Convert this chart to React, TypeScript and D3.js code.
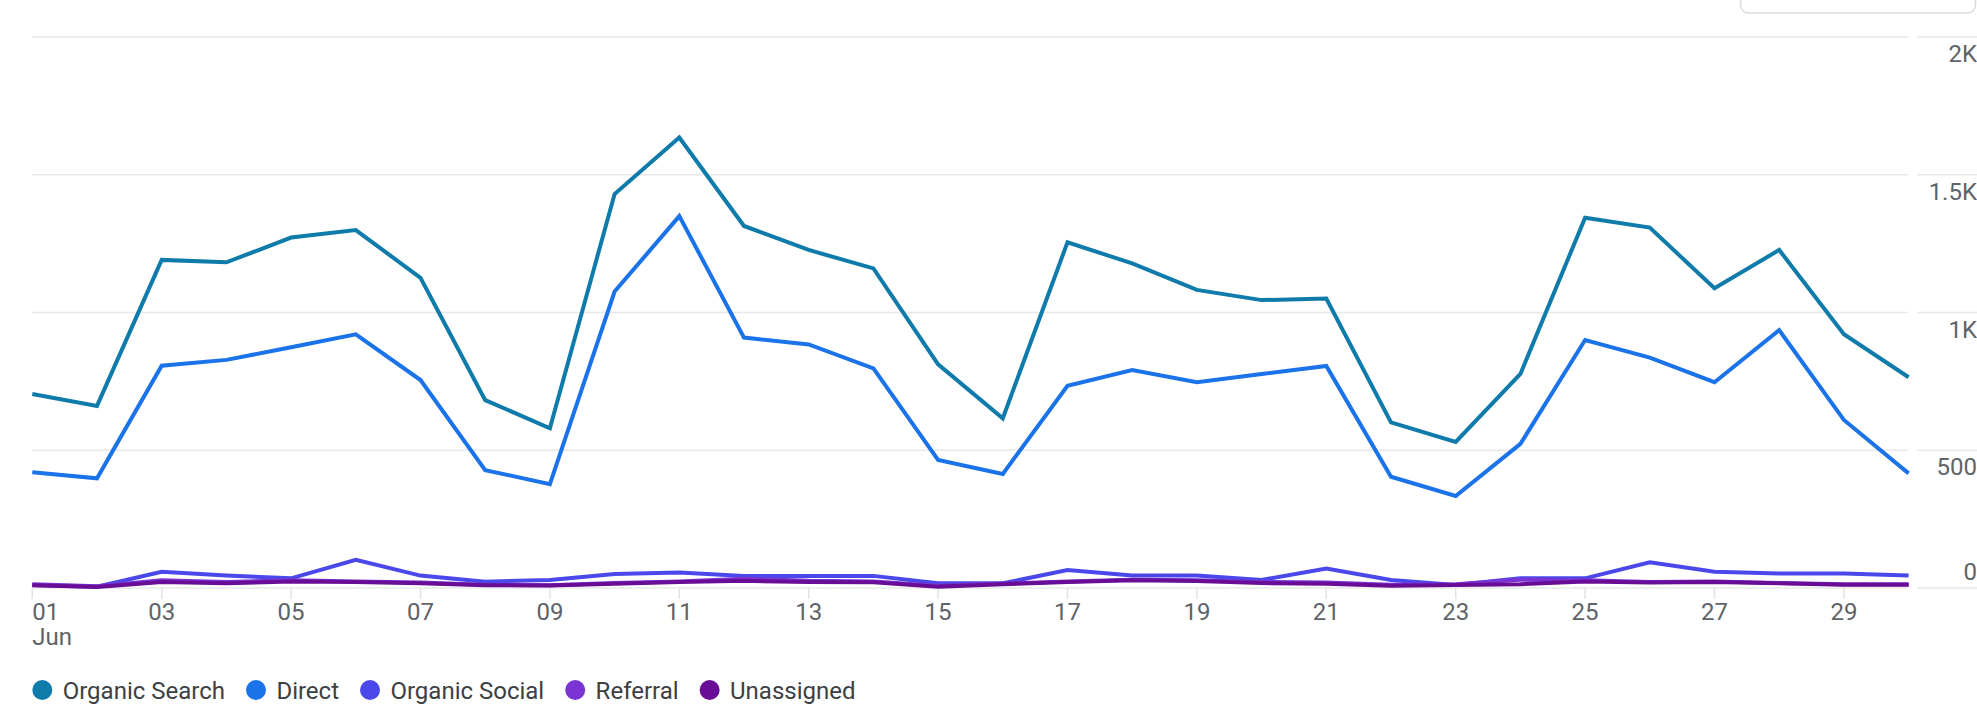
import React, { useEffect, useRef } from "react";
import * as d3 from "d3";

const days: number[] = Array.from({ length: 30 }, (_, i) => i + 1);

const organicSearch = [704, 661, 1191, 1182, 1272, 1299, 1126, 682, 580, 1430, 1635, 1314, 1227, 1160, 812, 616, 1255, 1178, 1082, 1045, 1051, 601, 530, 777, 1344, 1308, 1088, 1227, 921, 765];
const direct = [420, 398, 807, 828, 874, 921, 755, 428, 377, 1076, 1350, 909, 884, 797, 465, 414, 734, 791, 747, 777, 806, 404, 334, 523, 900, 836, 747, 936, 610, 416];
const organicSocial = [11, 5, 59, 45, 35, 102, 45, 23, 29, 51, 56, 44, 44, 44, 17, 17, 65, 45, 45, 29, 71, 29, 11, 35, 35, 93, 59, 53, 53, 45];
const referral = [14, 6, 28, 22, 28, 24, 20, 12, 10, 18, 24, 34, 26, 24, 8, 16, 24, 30, 28, 22, 20, 12, 14, 30, 28, 22, 24, 18, 14, 14];
const unassigned = [10, 4, 22, 17, 24, 22, 17, 10, 9, 15, 22, 26, 22, 21, 5, 14, 22, 28, 25, 18, 15, 8, 11, 14, 24, 20, 22, 17, 12, 12];

const seriesNames = ["Organic Search", "Direct", "Organic Social", "Referral", "Unassigned"];
const seriesColors = ["#0f7bab", "#1a73e8", "#4a48ea", "#7a34d4", "#6a0d96"];
const seriesValues = [organicSearch, direct, organicSocial, referral, unassigned];

const yTicks = [0, 500, 1000, 1500, 2000];
const yTickLabels = ["0", "500", "1K", "1.5K", "2K"];
const xTickDays = [1, 3, 5, 7, 9, 11, 13, 15, 17, 19, 21, 23, 25, 27, 29];
const monthLabel = "Jun";

const W = 1977;
const H = 709;

export default function App() {
  const ref = useRef<SVGSVGElement | null>(null);

  useEffect(() => {
    const svg = d3.select(ref.current);
    svg.selectAll("*").remove();

    const x = d3.scaleLinear().domain([1, 30]).range([32.3, 1908.6]);
    const y = d3.scaleLinear().domain([0, 2000]).range([588, 37]);

    // top-right box outline
    svg.append("rect")
      .attr("x", 1740.5).attr("y", -20).attr("width", 235).attr("height", 33)
      .attr("rx", 8).attr("fill", "#fff").attr("stroke", "#dadce0").attr("stroke-width", 1.5);

    // gridlines
    const grid = svg.append("g");
    yTicks.forEach((t) => {
      grid.append("line")
        .attr("x1", 32).attr("x2", 1908).attr("y1", y(t)).attr("y2", y(t))
        .attr("stroke", "#e8e8ea").attr("stroke-width", 1.5);
      grid.append("line")
        .attr("x1", 1917).attr("x2", W).attr("y1", y(t)).attr("y2", y(t))
        .attr("stroke", "#e8e8ea").attr("stroke-width", 1.5);
    });

    // y labels
    yTicks.forEach((t, i) => {
      svg.append("text")
        .attr("x", W)
        .attr("y", t === 0 ? y(t) - 8 : y(t) + 25)
        .attr("text-anchor", "end")
        .attr("font-family", "Roboto, sans-serif")
        .attr("font-size", 24)
        .attr("fill", "#5f6368")
        .text(yTickLabels[i]);
    });

    // x ticks
    xTickDays.forEach((d, i) => {
      svg.append("line")
        .attr("x1", x(d)).attr("x2", x(d)).attr("y1", y(0)).attr("y2", y(0) + 11)
        .attr("stroke", "#e3e3e5").attr("stroke-width", 1.5);
      svg.append("text")
        .attr("x", x(d))
        .attr("y", 620)
        .attr("text-anchor", i === 0 ? "start" : "middle")
        .attr("font-family", "Roboto, sans-serif")
        .attr("font-size", 24)
        .attr("fill", "#5f6368")
        .text(String(d).padStart(2, "0"));
    });
    svg.append("text")
      .attr("x", x(1)).attr("y", 645)
      .attr("font-family", "Roboto, sans-serif")
      .attr("font-size", 24)
      .attr("fill", "#5f6368")
      .text(monthLabel);

    // lines
    const line = d3.line<number>()
      .x((_, i) => x(days[i]))
      .y((v) => y(v));
    seriesValues.forEach((vals, i) => {
      svg.append("path")
        .attr("d", line(vals) || "")
        .attr("fill", "none")
        .attr("stroke", seriesColors[i])
        .attr("stroke-width", 4)
        .attr("stroke-linejoin", "miter")
        .attr("stroke-linecap", "butt");
    });

    // legend
    const lg = svg.append("g");
    let cx = 42.3;
    seriesNames.forEach((name, i) => {
      lg.append("circle").attr("cx", cx).attr("cy", 690).attr("r", 10).attr("fill", seriesColors[i]);
      const t = lg.append("text")
        .attr("x", cx + 20.4).attr("y", 698.5)
        .attr("font-family", "Roboto, sans-serif")
        .attr("font-size", 24)
        .attr("fill", "#3c4043")
        .text(name);
      const w = (t.node() as SVGTextElement).getComputedTextLength();
      cx = cx + 20.4 + w + 31;
    });
  }, []);

  return (
    <svg
      ref={ref}
      width={W}
      height={H}
      style={{ position: "absolute", left: 0, top: 0, background: "#fff" }}
    />
  );
}
